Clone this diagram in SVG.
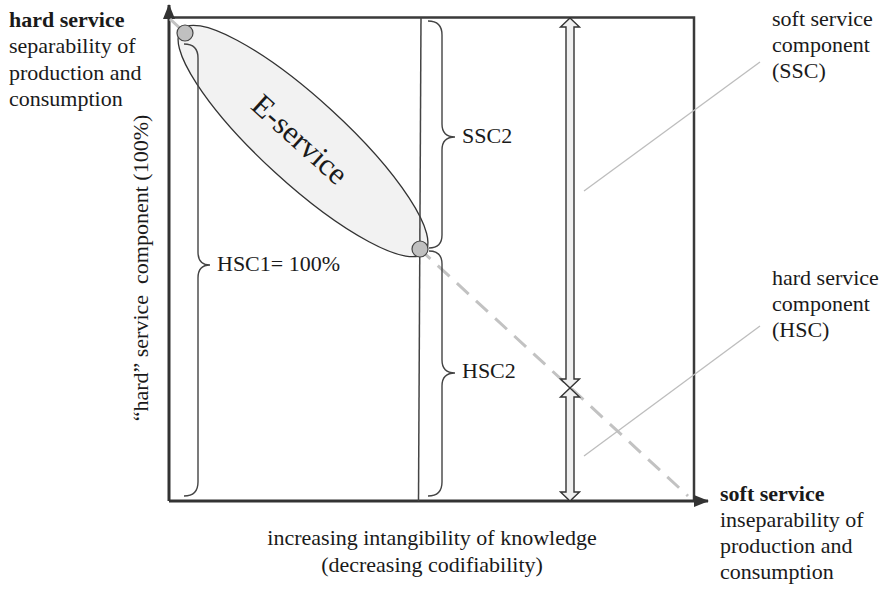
<svg xmlns="http://www.w3.org/2000/svg" width="885" height="589" viewBox="0 0 885 589">
  <style>
    text { font-family: "Liberation Serif", "Times New Roman", serif; font-size: 22px; fill: #1a1a1a; }
    .b { font-weight: bold; }
    .big { font-size: 31px; }
    .axis { stroke: #333; stroke-width: 3; fill: none; }
    .frame { stroke: #3a3a3a; stroke-width: 2.5; fill: none; }
    .thin { stroke: #444; stroke-width: 1.5; fill: none; }
    .brace { stroke: #444; stroke-width: 1.4; fill: none; }
    .leader { stroke: #bdbdbd; stroke-width: 1.3; fill: none; }
    .dash { stroke: #c2c2c2; stroke-width: 3; stroke-dasharray: 16 10; fill: none; }
    .dot { fill: #c0c0c0; stroke: #444; stroke-width: 1.2; }
    .block { fill: #f0f0f0; stroke: #333; stroke-width: 1.4; stroke-linejoin: miter; }
  </style>
  <defs>
    <marker id="head" viewBox="0 0 15 12" refX="14" refY="6" markerWidth="15" markerHeight="12" markerUnits="userSpaceOnUse" orient="auto">
      <path d="M0,0 L15,6 L0,12 Z" fill="#333"/>
    </marker>
  </defs>

  <!-- chart frame and axes -->
  <g id="frame">
    <polyline class="frame" points="169,17.5 694,17.5 694,501"/>
    <line class="axis" x1="169" y1="501" x2="169" y2="5" marker-end="url(#head)"/>
    <line class="axis" x1="169" y1="501" x2="708" y2="501" marker-end="url(#head)"/>
  </g>

  <!-- connectors: diagonal trend line and leader lines -->
  <g id="connectors">
    <line class="dash" x1="170" y1="19" x2="688" y2="496"/>
    <line class="leader" x1="584" y1="191" x2="760" y2="62"/>
    <line class="leader" x1="584" y1="456" x2="760" y2="326"/>
  </g>

  <!-- e-service ellipse -->
  <g id="e-service">
    <ellipse cx="303" cy="141" rx="165" ry="42" transform="rotate(42.5 303 141)" fill="#f2f2f2" stroke="#333" stroke-width="1.3"/>
    <text class="big" x="293" y="147" text-anchor="middle" transform="rotate(42 293 147)">E-service</text>
  </g>

  <g id="point-top"><circle class="dot" cx="185" cy="33" r="8"/></g>

  <!-- boundary between hard and soft share -->
  <g id="divider">
    <line class="thin" x1="421" y1="17.5" x2="418.5" y2="501"/>
  </g>

  <g id="point-bottom"><circle class="dot" cx="420" cy="249" r="8"/></g>

  <!-- braces -->
  <g id="hsc1">
    <path class="brace" d="M184,44 Q198,44 198,58 L198,252 Q198,265 210,265 Q198,265 198,278 L198,482 Q198,496 184,496"/>
    <text x="217" y="271">HSC1= 100%</text>
  </g>
  <g id="ssc2">
    <path class="brace" d="M428,21 Q442,21 442,35 L442,124 Q442,137 455,137 Q442,137 442,150 L442,235 Q442,248 429,248"/>
    <text x="462" y="143">SSC2</text>
  </g>
  <g id="hsc2">
    <path class="brace" d="M429,251 Q442,251 442,264 L442,360 Q442,373 455,373 Q442,373 442,386 L442,482 Q442,496 428,496"/>
    <text x="462" y="378">HSC2</text>
  </g>

  <!-- double-headed block arrows -->
  <g id="ssc-arrow">
    <polygon class="block" points="570,18 579.5,27 574,27 574,379 579.5,379 570,388 560.5,379 566,379 566,27 560.5,27"/>
  </g>
  <g id="hsc-arrow">
    <polygon class="block" points="570,388 579.5,397 574,397 574,492 579.5,492 570,501 560.5,492 566,492 566,397 560.5,397"/>
  </g>

  <!-- labels -->
  <g id="label-hard">
    <text x="9" y="27" class="b">hard service</text>
    <text x="9" y="53.3">separability of</text>
    <text x="9" y="79.6">production and</text>
    <text x="9" y="106">consumption</text>
  </g>
  <g id="label-soft">
    <text x="720" y="501" class="b">soft service</text>
    <text x="720" y="527">inseparability of</text>
    <text x="720" y="553">production and</text>
    <text x="720" y="579">consumption</text>
  </g>
  <g id="label-ssc">
    <text x="772" y="26">soft service</text>
    <text x="772" y="52">component</text>
    <text x="772" y="78">(SSC)</text>
  </g>
  <g id="label-hsc">
    <text x="772" y="285">hard service</text>
    <text x="772" y="311">component</text>
    <text x="772" y="337">(HSC)</text>
  </g>
  <g id="label-x">
    <text x="432" y="545" text-anchor="middle">increasing intangibility of knowledge</text>
    <text x="432" y="572" text-anchor="middle">(decreasing codifiability)</text>
  </g>
  <g id="label-y">
    <text x="148" y="268" text-anchor="middle" transform="rotate(-90 148 268)" xml:space="preserve">“hard” service  component (100%)</text>
  </g>
</svg>
